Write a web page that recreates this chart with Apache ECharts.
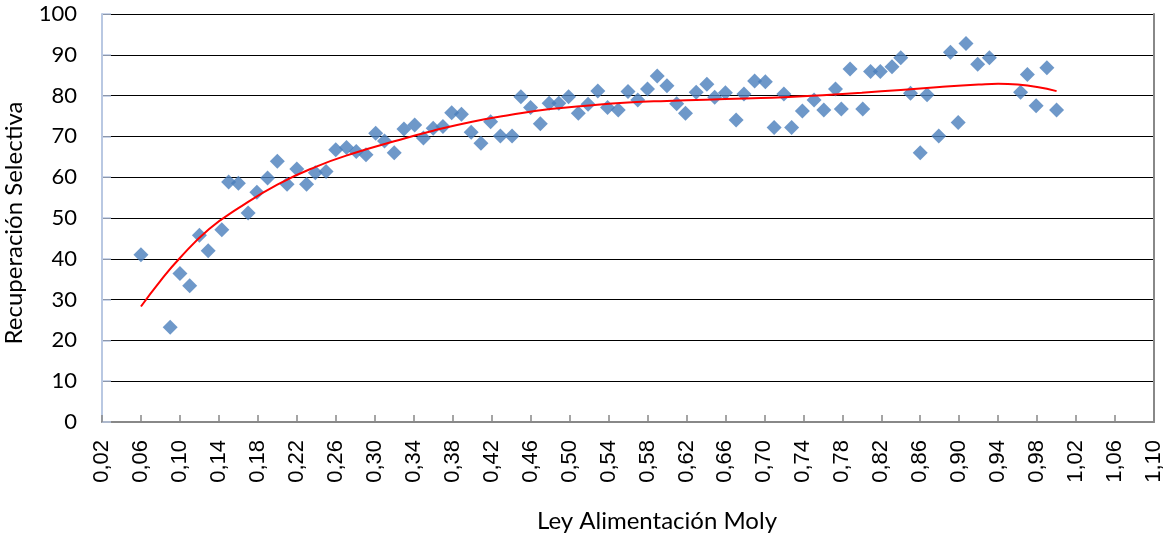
<!DOCTYPE html>
<html>
<head>
<meta charset="utf-8">
<script src="https://cdn.jsdelivr.net/npm/echarts@6/dist/echarts.min.js"></script>
<style>
  html, body { margin: 0; padding: 0; background: #fff; }
  #chart { width: 1165px; height: 533px; }
</style>
</head>
<body>
<div id="chart"></div>
<script>
// Ley de alimentación (x) y recuperación selectiva (y)
var moly = [0.060, 0.090, 0.100, 0.110, 0.120, 0.129, 0.143, 0.150, 0.160, 0.170,
  0.179, 0.190, 0.200, 0.210, 0.220, 0.230, 0.239, 0.250, 0.260, 0.271,
  0.281, 0.291, 0.301, 0.310, 0.320, 0.330, 0.341, 0.350, 0.360, 0.370,
  0.379, 0.389, 0.399, 0.409, 0.419, 0.429, 0.441, 0.450, 0.460, 0.470,
  0.479, 0.489, 0.499, 0.509, 0.519, 0.529, 0.539, 0.550, 0.560, 0.570,
  0.580, 0.590, 0.600, 0.610, 0.619, 0.630, 0.641, 0.649, 0.660, 0.671,
  0.679, 0.690, 0.701, 0.710, 0.720, 0.728, 0.739, 0.751, 0.761, 0.773,
  0.779, 0.788, 0.801, 0.809, 0.819, 0.831, 0.840, 0.850, 0.860, 0.867,
  0.879, 0.891, 0.899, 0.907, 0.919, 0.931, 0.963, 0.970, 0.979, 0.990,
  1.000]
var recuperacion = [41.0, 23.2, 36.4, 33.4, 45.8, 42.0, 47.1, 58.8, 58.5, 51.2,
  56.3, 59.8, 63.9, 58.3, 62.0, 58.3, 61.1, 61.4, 66.7, 67.3,
  66.3, 65.5, 70.8, 68.9, 66.0, 71.8, 72.8, 69.6, 72.0, 72.4,
  75.8, 75.4, 71.0, 68.3, 73.6, 70.1, 70.1, 79.7, 77.1, 73.1,
  78.1, 78.1, 79.7, 75.7, 77.9, 81.1, 77.1, 76.5, 81.0, 78.9,
  81.6, 84.8, 82.4, 78.0, 75.7, 80.8, 82.8, 79.6, 80.7, 74.0,
  80.4, 83.6, 83.4, 72.2, 80.4, 72.2, 76.2, 78.9, 76.5, 81.6,
  76.7, 86.5, 76.7, 85.9, 85.9, 87.1, 89.3, 80.6, 66.0, 80.2,
  70.1, 90.6, 73.4, 92.8, 87.7, 89.3, 80.8, 85.2, 77.5, 86.8,
  76.5]

// línea de tendencia (roja)
var trendX = [0.06, 0.08, 0.10, 0.13, 0.16, 0.20, 0.24, 0.28, 0.32, 0.36, 0.40, 0.44, 0.48,
  0.52, 0.56, 0.60, 0.64, 0.68, 0.72, 0.76, 0.80, 0.84, 0.88, 0.92, 0.94, 0.96, 0.98, 1.00]
var trendY = [28.3, 34.6, 40.2, 47.3, 52.4, 58.2, 62.6, 66.0, 68.8, 71.4, 73.6, 75.3, 76.7,
  77.6, 78.3, 78.7, 79.0, 79.3, 79.6, 80.1, 80.7, 81.4, 82.1, 82.7, 82.9, 82.7, 82.1, 81.1]

// marcas del eje x
var xTicks = [0.02, 0.06, 0.10, 0.14, 0.18, 0.22, 0.26, 0.30, 0.34, 0.38, 0.42, 0.46, 0.50, 0.54,
  0.58, 0.62, 0.66, 0.70, 0.74, 0.78, 0.82, 0.86, 0.90, 0.94, 0.98, 1.02, 1.06, 1.10]

var chart = echarts.init(document.getElementById('chart'))

var puntos = moly.map(function(x, i) { return [x, recuperacion[i]] })
var tendencia = trendX.map(function(x, i) { return [x, trendY[i]] })

chart.setOption({
  backgroundColor: '#fff',
  animation: false,
  grid: {
    left: 102,
    right: 8,
    top: 14,
    bottom: 111
  },
  xAxis: {
    type: 'value',
    min: 0.02,
    max: 1.10,
    axisLine: { lineStyle: { color: '#888', width: 2 } },
    axisTick: {
      inside: true,
      length: 7,
      customValues: xTicks,
      lineStyle: { color: '#888', width: 1.5 }
    },
    axisLabel: {
      customValues: xTicks,
      rotate: 90,
      margin: 18,
      color: '#000',
      fontFamily: 'Liberation Sans',
      fontSize: 22,
      formatter: function(v) {
        return v.toFixed(2).replace('.', ',')
      }
    },
    splitLine: { show: false }
  },
  yAxis: [
    {
      type: 'value',
      min: 0,
      max: 100,
      interval: 10,
      axisLine: { show: true, lineStyle: { color: '#b9c8e2', width: 2 } },
      axisTick: { show: true, inside: true, length: 9, lineStyle: { color: '#b9c8e2', width: 1.5 } },
      axisLabel: {
        margin: 25,
        color: '#000',
        fontFamily: 'Lato',
        fontSize: 22
      },
      splitLine: { lineStyle: { color: '#000', width: 1 } }
    },
    {
      type: 'value',
      min: 0,
      max: 100,
      position: 'right',
      axisLine: { show: true, lineStyle: { color: '#888', width: 2 } },
      axisTick: { show: false },
      axisLabel: { show: false },
      splitLine: { show: false }
    }
  ],
  graphic: [
    {
      type: 'text',
      x: 14,
      y: 223,
      rotation: Math.PI / 2,
      style: {
        text: 'Recuperación Selectiva',
        font: '24px Lato',
        fill: '#000',
        align: 'center',
        verticalAlign: 'middle'
      }
    },
    {
      type: 'text',
      x: 657,
      y: 521,
      style: {
        text: 'Ley Alimentación Moly',
        font: '24px Lato',
        fill: '#000',
        align: 'center',
        verticalAlign: 'middle'
      }
    }
  ],
  series: [
    {
      name: 'Recuperación',
      type: 'scatter',
      symbol: 'diamond',
      symbolSize: 15,
      itemStyle: { color: '#4a7ebb' },
      data: puntos,
      z: 3
    },
    {
      name: 'Tendencia',
      type: 'line',
      smooth: 0.5,
      showSymbol: false,
      lineStyle: { color: '#ff0000', width: 2 },
      data: tendencia,
      z: 4
    }
  ]
})
</script>
</body>
</html>
